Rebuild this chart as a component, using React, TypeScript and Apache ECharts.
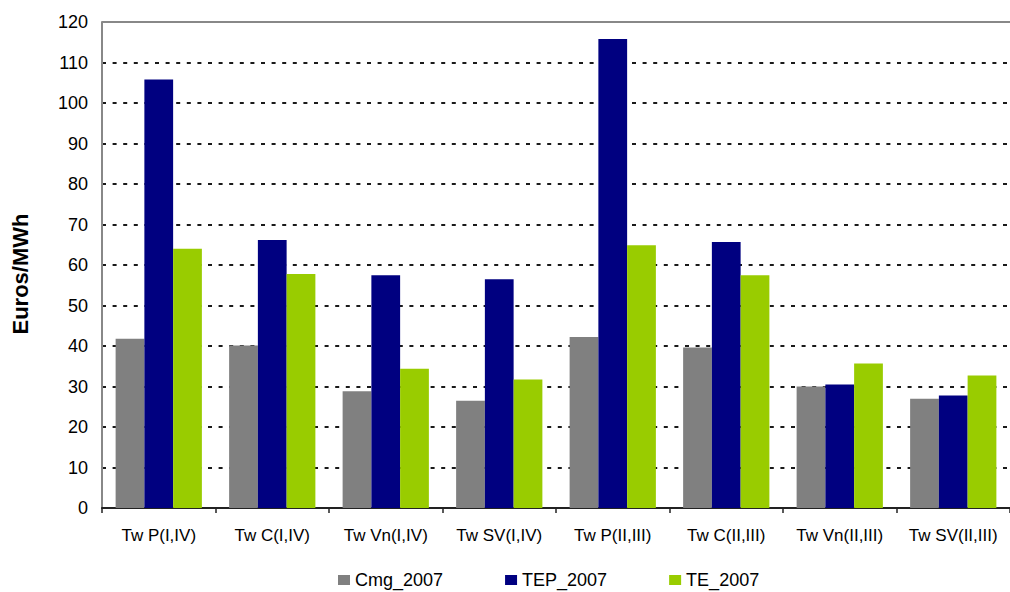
import React, { useEffect, useRef } from "react";
import * as echarts from "echarts";

const categories = [
  "Tw P(I,IV)",
  "Tw C(I,IV)",
  "Tw Vn(I,IV)",
  "Tw SV(I,IV)",
  "Tw P(II,III)",
  "Tw C(II,III)",
  "Tw Vn(II,III)",
  "Tw SV(II,III)",
];

const cmg2007 = [41.8, 40.1, 28.8, 26.5, 42.2, 39.6, 30.0, 27.0];
const tep2007 = [105.8, 66.2, 57.5, 56.5, 115.8, 65.7, 30.5, 27.8];
const te2007 = [64.0, 57.8, 34.4, 31.7, 64.9, 57.5, 35.7, 32.7];

const yTicks = { min: 0, max: 120, interval: 10 };
const yAxisTitle = "Euros/MWh";

const FONT = "'Liberation Sans', Arial, Helvetica, sans-serif";

export default function App() {
  const ref = useRef<HTMLDivElement>(null);

  useEffect(() => {
    if (!ref.current) return;
    const chart = echarts.init(ref.current, undefined, { renderer: "svg" });

    const barSeries = (name: string, data: number[], color: string) => ({
      name,
      type: "bar" as const,
      data,
      barGap: "0%",
      barCategoryGap: "24%",
      itemStyle: { color },
    });

    chart.setOption({
      animation: false,
      backgroundColor: "#ffffff",
      textStyle: { fontFamily: FONT },
      grid: { left: 102, right: -18, top: 22, bottom: 84, containLabel: false },
      legend: {
        left: 333,
        top: 565,
        padding: 5,
        itemWidth: 12,
        itemHeight: 10,
        itemGap: 62,
        icon: "rect",
        textStyle: { fontFamily: FONT, fontSize: 18, color: "#000", lineHeight: 20 },
        data: ["Cmg_2007", "TEP_2007", "TE_2007"],
      },
      xAxis: {
        type: "category",
        data: categories,
        axisLine: { show: true, lineStyle: { color: "#222", width: 2 } },
        axisTick: { show: true, length: 5, lineStyle: { color: "#222", width: 1.5 } },
        axisLabel: {
          margin: 19,
          fontFamily: FONT,
          fontSize: 17,
          color: "#000",
          interval: 0,
        },
        splitLine: { show: false },
      },
      yAxis: {
        type: "value",
        min: yTicks.min,
        max: yTicks.max,
        interval: yTicks.interval,
        axisLine: { show: true, lineStyle: { color: "#888", width: 2 } },
        axisTick: { show: false },
        axisLabel: {
          margin: 14,
          fontFamily: FONT,
          fontSize: 18,
          color: "#000",
        },
        splitLine: {
          show: true,
          lineStyle: { color: "#1a1a1a", width: 2, type: [4, 6.6] },
        },
      },
      graphic: [
        {
          type: "line",
          shape: { x1: 102, y1: 22, x2: 1010, y2: 22 },
          style: { stroke: "#888", lineWidth: 2 },
          z: 10,
        },
        {
          type: "text",
          x: 20,
          y: 274,
          rotation: Math.PI / 2,
          style: {
            text: yAxisTitle,
            fontFamily: FONT,
            fontSize: 22,
            fontWeight: "bold",
            fill: "#000",
            align: "center",
            verticalAlign: "middle",
          },
        },
      ],
      series: [
        barSeries("Cmg_2007", cmg2007, "#808080"),
        barSeries("TEP_2007", tep2007, "#000080"),
        barSeries("TE_2007", te2007, "#99CC00"),
      ],
    });

    return () => chart.dispose();
  }, []);

  return (
    <div
      ref={ref}
      style={{ position: "fixed", left: 0, top: 0, width: 1010, height: 592 }}
    />
  );
}
